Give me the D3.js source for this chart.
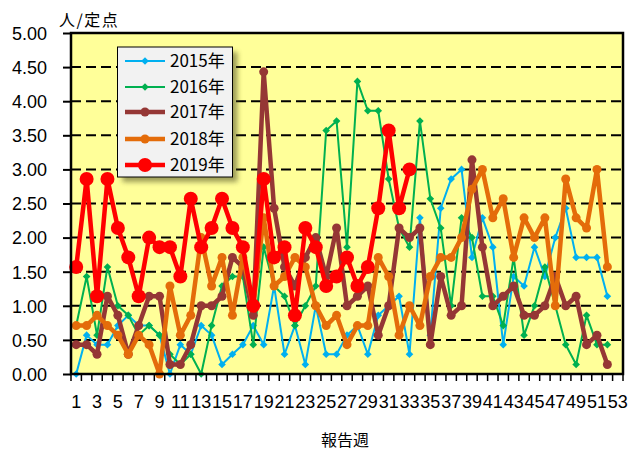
<!DOCTYPE html>
<html><head><meta charset="utf-8">
<script src="https://cdn.jsdelivr.net/npm/d3@7"></script>
<style>body{margin:0;background:#fff}svg{display:block}</style>
</head><body><svg id="c" width="629" height="450"></svg>
<script>
const weeks = d3.range(1, 54);
const yTickValues = [0, 0.5, 1, 1.5, 2, 2.5, 3, 3.5, 4, 4.5, 5];
const xTickLabels = weeks.filter(w => w % 2 === 1);
const seriesNames = ["2015年", "2016年", "2017年", "2018年", "2019年"];
const s2015 = [0.00,0.57,0.43,0.43,0.71,0.86,0.71,0.71,0.57,0.00,0.43,0.29,0.71,0.57,0.14,0.29,0.43,0.71,0.43,1.29,0.29,0.71,0.14,1.00,0.29,0.29,0.57,0.71,0.29,0.86,1.00,1.14,0.29,2.29,0.57,2.43,2.86,3.00,1.71,2.29,1.86,0.43,1.43,1.29,1.86,1.43,2.00,2.43,1.71,1.71,1.71,1.14];
const s2016 = [0.71,1.43,0.57,1.57,1.00,0.86,0.57,0.71,0.57,0.29,0.14,0.29,0.00,0.71,1.29,1.43,1.43,0.43,1.86,1.29,1.14,0.71,1.00,1.29,3.57,3.71,1.86,4.29,3.86,3.86,2.86,2.14,1.86,3.71,2.57,2.14,1.00,2.29,2.00,1.14,1.14,0.71,1.71,0.57,1.00,1.57,1.00,0.43,0.14,0.86,0.43,0.43];
const s2017 = [0.43,0.43,0.29,1.14,0.86,0.29,0.71,1.14,1.14,0.14,0.14,0.43,1.00,1.00,1.14,1.71,1.57,0.86,4.43,2.43,1.57,1.29,1.71,2.00,1.43,2.14,1.00,1.14,1.29,0.57,1.00,2.14,2.00,2.14,0.43,1.43,0.86,1.00,3.14,1.86,1.00,1.14,1.29,0.86,0.86,1.00,1.43,1.00,1.14,0.43,0.57,0.14];
const s2018 = [0.71,0.71,0.86,0.71,0.57,0.29,0.57,0.43,0.00,1.29,0.57,0.86,2.00,1.29,1.71,0.86,1.71,1.00,2.29,1.29,1.43,1.71,1.57,1.00,0.71,0.86,0.43,0.71,0.71,1.71,1.43,0.57,1.00,0.71,1.43,1.71,1.71,2.00,2.71,3.00,2.29,2.57,1.71,2.29,2.00,2.29,1.00,2.86,2.29,2.14,3.00,1.57];
const s2019 = [1.57,2.86,1.14,2.86,2.14,1.71,1.14,2.00,1.86,1.86,1.43,2.57,1.86,2.14,2.57,2.14,1.86,1.00,2.86,1.71,1.86,0.86,2.14,1.86,1.29,1.43,1.71,1.29,1.57,2.43,3.57,2.43,3.00];

const colors = ["#00B0F0", "#00B050", "#953735", "#E46C0A", "#FF0000"];
const widths = [2, 2, 4.5, 4.5, 4.5];
const markers = ["diamond", "diamond", "circle", "circle", "circle"];
const msize = [3.8, 3.8, 4.5, 4.5, 7];
const allSeries = [s2015, s2016, s2017, s2018, s2019];

const L = 71, R = 623, T = 33, B = 374;
const svg = d3.select("#c");
const FONT = "'Liberation Sans', Arial, sans-serif";
const JFONT = "'Noto Sans CJK JP', 'Noto Sans', sans-serif";

const x = d3.scaleBand().domain(weeks).range([L, R]).padding(0);
const y = d3.scaleLinear().domain([0, 5]).range([B, T]);
const cx = w => x(w) + x.bandwidth() / 2;

// plot background
svg.append("rect").attr("x", L).attr("y", T).attr("width", R - L).attr("height", B - T).attr("fill", "#FFFF99");

// grid lines dashed
svg.append("g").selectAll("line").data(yTickValues.filter(v => v > 0 && v < 5)).join("line")
  .attr("x1", L).attr("x2", R).attr("y1", d => y(d)).attr("y2", d => y(d))
  .attr("stroke", "#000").attr("stroke-width", 2).attr("stroke-dasharray", "10,5");

// y axis
const yAxis = d3.axisLeft(y).tickValues(yTickValues).tickFormat(d3.format(".2f")).tickSize(8).tickPadding(16);
const gy = svg.append("g").attr("transform", `translate(${L},0)`).call(yAxis);
gy.select(".domain").remove();
gy.selectAll(".tick line").attr("stroke", "#000").attr("stroke-width", 2);
gy.selectAll(".tick text").attr("font-family", FONT).attr("font-size", 18).attr("fill", "#000").attr("dy", "0.35em");

// x axis ticks at band boundaries
const xb = d3.scaleLinear().domain([0, 53]).range([L, R]);
svg.append("g").selectAll("line").data(d3.range(0, 54)).join("line")
  .attr("x1", d => xb(d)).attr("x2", d => xb(d)).attr("y1", B).attr("y2", B + 7)
  .attr("stroke", "#000").attr("stroke-width", 1.5);
svg.append("g").selectAll("text").data(xTickLabels).join("text")
  .attr("x", d => cx(d)).attr("y", 408).attr("text-anchor", "middle")
  .attr("font-family", FONT).attr("font-size", 18).attr("fill", "#000").text(d => d);

// series
const diamond = r => `M0,${-r}L${r},0L0,${r}L${-r},0Z`;
allSeries.forEach((s, i) => {
  const pts = s.map((v, k) => ({w: weeks[k], v}));
  const line = d3.line().defined(d => d.v != null).x(d => cx(d.w)).y(d => y(d.v));
  svg.append("path").datum(pts).attr("d", line).attr("fill", "none")
    .attr("stroke", colors[i]).attr("stroke-width", widths[i]).attr("stroke-linejoin", "round");
  const g = svg.append("g");
  if (markers[i] === "diamond") {
    g.selectAll("path").data(pts).join("path")
      .attr("d", diamond(msize[i])).attr("transform", d => `translate(${cx(d.w)},${y(d.v)})`).attr("fill", colors[i]);
  } else {
    g.selectAll("circle").data(pts).join("circle")
      .attr("cx", d => cx(d.w)).attr("cy", d => y(d.v)).attr("r", msize[i]).attr("fill", colors[i]);
  }
});

// plot border
svg.append("rect").attr("x", L).attr("y", T).attr("width", R - L).attr("height", B - T)
  .attr("fill", "none").attr("stroke", "#000").attr("stroke-width", 2.5);

// legend
const defs = svg.append("defs");
const f = defs.append("filter").attr("id", "sh").attr("x", "-20%").attr("y", "-20%").attr("width", "140%").attr("height", "140%");
f.append("feGaussianBlur").attr("stdDeviation", 2.5);
const lx = 117.5, ly = 47, lw = 115, lh = 130;
svg.append("rect").attr("x", lx + 5).attr("y", ly + 5).attr("width", lw).attr("height", lh)
  .attr("fill", "#4d4d20").attr("opacity", 0.55).attr("filter", "url(#sh)");
svg.append("rect").attr("x", lx).attr("y", ly).attr("width", lw).attr("height", lh)
  .attr("fill", "#F2F2F2").attr("stroke", "#000").attr("stroke-width", 1);
const legY = [61, 87, 112, 139, 165];
seriesNames.forEach((n, i) => {
  const yy = legY[i];
  svg.append("line").attr("x1", 125).attr("x2", 165).attr("y1", yy).attr("y2", yy)
    .attr("stroke", colors[i]).attr("stroke-width", widths[i]);
  if (markers[i] === "diamond") {
    svg.append("path").attr("d", diamond(msize[i])).attr("transform", `translate(145,${yy})`).attr("fill", colors[i]);
  } else {
    svg.append("circle").attr("cx", 145).attr("cy", yy).attr("r", msize[i]).attr("fill", colors[i]);
  }
  svg.append("text").attr("x", 170).attr("y", yy).attr("dy", "0.36em")
    .attr("font-family", JFONT).attr("font-size", 17).attr("fill", "#000").text(n);
});

// axis titles
svg.append("text").attr("x", 59).attr("y", 26).attr("font-family", JFONT).attr("font-size", 16)
  .attr("letter-spacing", 1.5).attr("fill", "#000").text("人/定点");
svg.append("text").attr("x", 345).attr("y", 446).attr("text-anchor", "middle").attr("font-family", JFONT).attr("font-size", 16).attr("fill", "#000").text("報告週");
</script>
</body></html>
